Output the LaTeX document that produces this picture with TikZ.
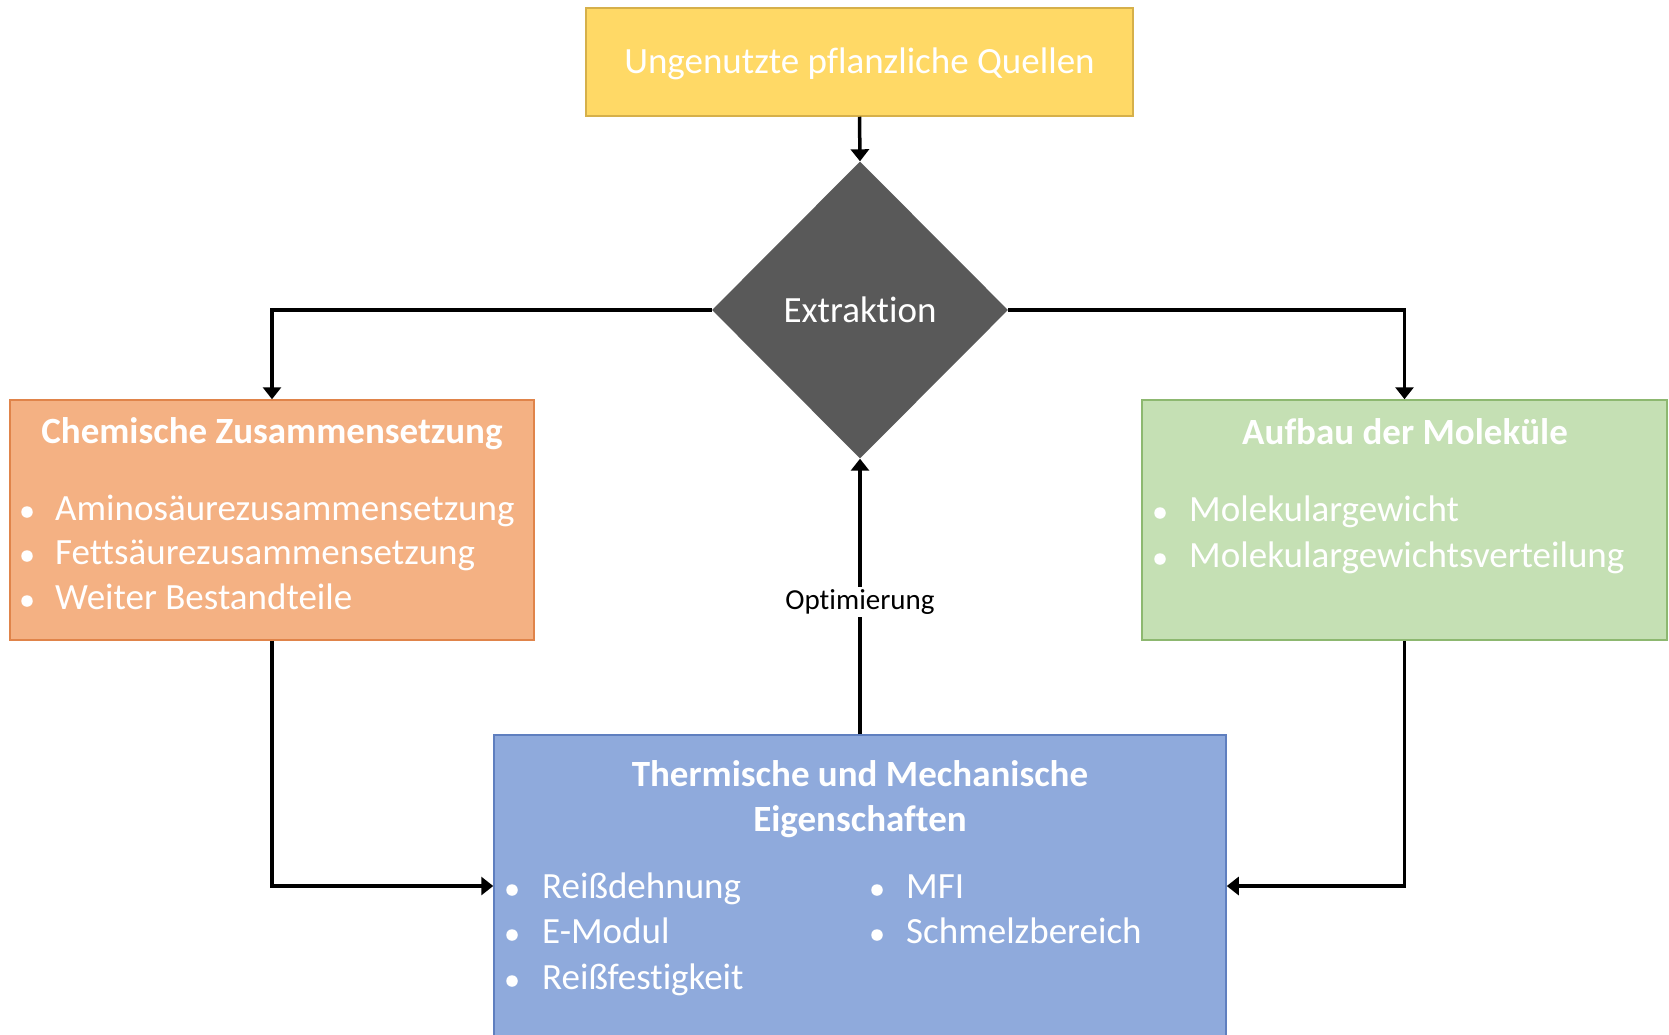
\documentclass[tikz,border=0pt]{standalone}
\usepackage{fontspec}
\setmainfont{Carlito}[Ligatures=NoCommon]
\usetikzlibrary{shapes.geometric,arrows.meta}
\definecolor{yfill}{HTML}{FFD966}
\definecolor{ydraw}{HTML}{D6B04A}
\definecolor{ofill}{HTML}{F4B183}
\definecolor{odraw}{HTML}{E0844A}
\definecolor{gfill}{HTML}{C5E0B4}
\definecolor{gdraw}{HTML}{8DB870}
\definecolor{bfill}{HTML}{8FAADC}
\definecolor{bdraw}{HTML}{5F7FBF}
\definecolor{dfill}{HTML}{595959}
\tikzset{
 box/.style={rectangle, line width=1.5pt, inner sep=0pt},
 conn/.style={line width=3.5pt, -{Triangle[width=18pt,length=12pt]}},
 txt/.style={text=white, inner sep=0pt, font=\fontsize{37}{44}\selectfont},
 hdr/.style={text=white, inner sep=0pt, font=\fontsize{37}{44}\selectfont\bfseries, anchor=base},
 item/.style={txt, anchor=base west},
 bul/.style={fill=white, circle, inner sep=0pt, minimum size=11.5pt},
}
\begin{document}
\begin{tikzpicture}[x=1pt,y=-1pt]
\useasboundingbox (0,0) rectangle (1669,1034);
% boxes
\node[box, fill=yfill, draw=ydraw, minimum width=547pt, minimum height=108pt] (src) at (859.5,62) {};
\node[diamond, fill=dfill, minimum width=296pt, minimum height=297pt, inner sep=0pt] (ext) at (860,310) {};
\node[box, fill=ofill, draw=odraw, minimum width=524pt, minimum height=240pt] (chem) at (272,520) {};
\node[box, fill=gfill, draw=gdraw, minimum width=525pt, minimum height=240pt] (mol) at (1404.5,520) {};
\node[box, fill=bfill, draw=bdraw, minimum width=732pt, minimum height=302pt] (prop) at (860,886) {};
% texts
\node[txt, anchor=base] (srct) at (859.5,73) {Ungenutzte pflanzliche Quellen};
\node[txt, anchor=base] (extt) at (860,322) {Extraktion};
% orange
\node[hdr] (chemh) at (272,443) {Chemische Zusammensetzung};
\node[bul] (ob1) at (27,512) {};
\node[bul] (ob2) at (27,556) {};
\node[bul] (ob3) at (27,601) {};
\node[item] (oi1) at (55,520) {Aminosäurezusammensetzung};
\node[item] (oi2) at (55,564) {Fettsäurezusammensetzung};
\node[item] (oi3) at (55,609) {Weiter Bestandteile};
% green
\node[hdr] (molh) at (1405,444) {Aufbau der Moleküle};
\node[bul] (gb1) at (1160,513) {};
\node[bul] (gb2) at (1160,559) {};
\node[item] (gi1) at (1189,521) {Molekulargewicht};
\node[item] (gi2) at (1189,567) {Molekulargewichtsverteilung};
% blue
\node[hdr] (proph1) at (860,786) {Thermische und Mechanische};
\node[hdr] (proph2) at (860,831) {Eigenschaften};
\node[bul] (bb1) at (512,890) {};
\node[bul] (bb2) at (512,935) {};
\node[bul] (bb3) at (512,981) {};
\node[item] (bi1) at (542,898) {Reißdehnung};
\node[item] (bi2) at (542,943) {E-Modul};
\node[item] (bi3) at (542,989) {Reißfestigkeit};
\node[bul] (bb4) at (877,890) {};
\node[bul] (bb5) at (877,935) {};
\node[item] (bi4) at (906,898) {MFI};
\node[item] (bi5) at (906,943) {Schmelzbereich};
% connectors
\draw[conn] (src.south) -- (ext.north);
\draw[conn] (ext.west) -| (chem.north);
\draw[conn] (ext.east) -| (mol.north);
\draw[conn] (chem.south) |- (prop.west);
\draw[conn] (mol.south) |- (prop.east);
\draw[conn] (prop.north) -- node[pos=0.48, fill=white, text=black, inner sep=3pt, font=\fontsize{29}{35}\selectfont] (opt) {Optimierung} (ext.south);
\end{tikzpicture}
\end{document}
